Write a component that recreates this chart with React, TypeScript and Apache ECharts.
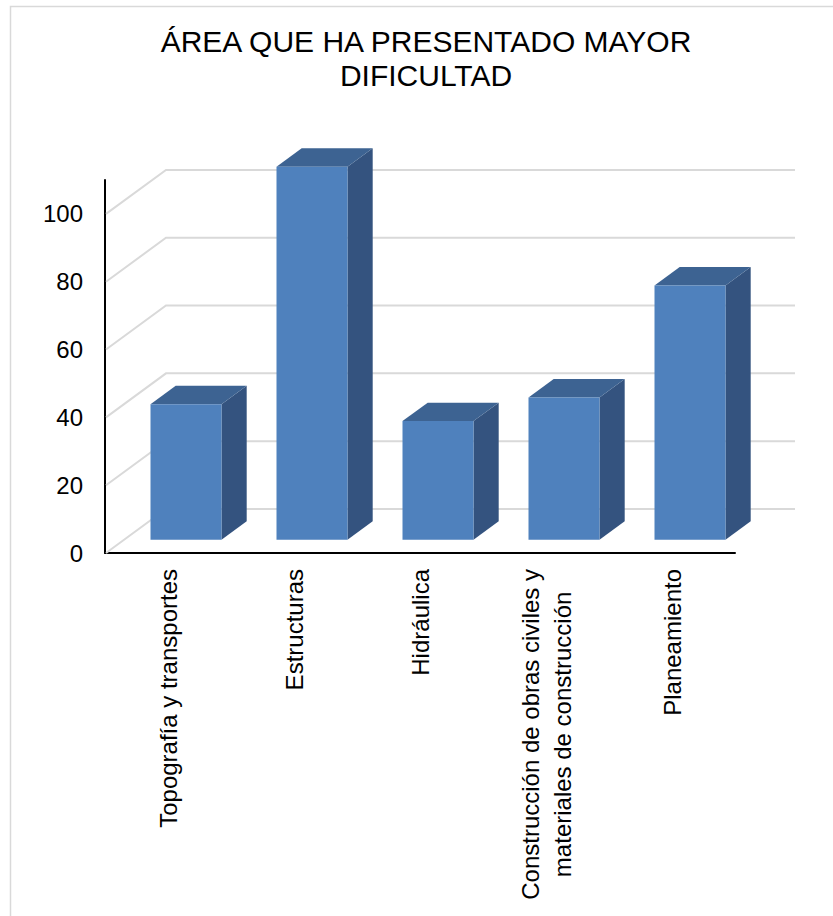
import { useEffect, useRef } from "react";
import * as echarts from "echarts";

const TITLE = "ÁREA QUE HA PRESENTADO MAYOR\nDIFICULTAD";
const categories = [
  "Topografía y transportes",
  "Estructuras",
  "Hidráulica",
  "Construcción de obras civiles y\nmateriales de construcción",
  "Planeamiento",
];
const values = [40, 110, 35, 42, 75];
const yTicks = [0, 20, 40, 60, 80, 100];

const FONT = "'Liberation Sans', Arial, Helvetica, sans-serif";
const WALL_DX = 60;
const WALL_DY = -44;
const BAR_OFF = 0.3;
const BAR_DEPTH = 0.42;
const BAR_W = 0.5635;
const FRONT = "#4F81BD";
const SIDE = "#34537F";
const TOP = "#3D6392";
const GRID = "#D9D9D9";

export default function App() {
  const ref = useRef<HTMLDivElement>(null);
  useEffect(() => {
    const chart = echarts.init(ref.current!, null, { renderer: "svg" });
    chart.setOption({
      animation: false,
      backgroundColor: "#ffffff",
      graphic: [
        {
          type: "rect",
          silent: true,
          z: -10,
          shape: { x: 10.5, y: 6.5, width: 840, height: 940 },
          style: { fill: "none", stroke: GRID, lineWidth: 1.5 },
        },
        {
          type: "text",
          x: 426,
          y: 24,
          style: {
            text: TITLE,
            align: "center",
            verticalAlign: "top",
            fontSize: 30,
            fontFamily: FONT,
            lineHeight: 34,
            fill: "#000",
          },
        },
      ],
      grid: { left: 105, right: 98, top: 180, bottom: 363, containLabel: false },
      xAxis: {
        type: "category",
        data: categories,
        axisLine: { show: true, lineStyle: { color: "#000", width: 2 } },
        axisTick: { show: false },
        splitLine: { show: false },
        axisLabel: {
          rotate: 90,
          interval: 0,
          margin: 16,
          fontSize: 24,
          fontFamily: FONT,
          color: "#000",
          lineHeight: 32,
          formatter: (v: string) =>
            v.includes("\n") ? v.split("\n").map((l) => `{c|${l}}`).join("\n") : v,
          rich: {
            c: { align: "center", fontSize: 24, fontFamily: FONT, color: "#000", lineHeight: 32 },
          },
        },
      },
      yAxis: {
        type: "value",
        min: 0,
        max: 110,
        interval: 20,
        axisLine: { show: true, lineStyle: { color: "#000", width: 2 } },
        axisTick: { show: false },
        splitLine: { show: false },
        axisLabel: {
          formatter: (v: number) => (v % 20 === 0 ? String(v) : ""),
          fontSize: 24,
          fontFamily: FONT,
          color: "#000",
          margin: 22,
        },
      },
      series: [
        {
          type: "custom",
          name: "grid",
          silent: true,
          z: 1,
          data: yTicks.map((v) => [0, v]),
          renderItem: (params: any, api: any) => {
            const cs = params.coordSys;
            const p = api.coord([0, api.value(1)]);
            const y = p[1];
            const x0 = cs.x + 1;
            const x1 = cs.x + cs.width;
            return {
              type: "polyline",
              shape: {
                points: [
                  [x0, y],
                  [x0 + WALL_DX, y + WALL_DY],
                  [x1 + WALL_DX, y + WALL_DY],
                ],
              },
              style: { stroke: GRID, lineWidth: 2, fill: "none" },
            };
          },
        },
        {
          type: "custom",
          name: "bars",
          z: 2,
          data: values.map((v, i) => [i, v]),
          renderItem: (params: any, api: any) => {
            const i = api.value(0);
            const v = api.value(1);
            const top = api.coord([i, v]);
            const base = api.coord([i, 0]);
            const band = api.size([1, 0])[0];
            const w = band * BAR_W;
            const ox = WALL_DX * BAR_OFF;
            const oy = WALL_DY * BAR_OFF;
            const ddx = WALL_DX * BAR_DEPTH;
            const ddy = WALL_DY * BAR_DEPTH;
            const xl = top[0] - w / 2 + ox;
            const xr = xl + w;
            const yt = top[1] + oy;
            const yb = base[1] + oy;
            return {
              type: "group",
              children: [
                {
                  type: "polygon",
                  shape: {
                    points: [
                      [xr, yt],
                      [xr + ddx, yt + ddy],
                      [xr + ddx, yb + ddy],
                      [xr, yb],
                    ],
                  },
                  style: { fill: SIDE },
                },
                {
                  type: "polygon",
                  shape: {
                    points: [
                      [xl, yt],
                      [xl + ddx, yt + ddy],
                      [xr + ddx, yt + ddy],
                      [xr, yt],
                    ],
                  },
                  style: { fill: TOP },
                },
                {
                  type: "rect",
                  shape: { x: xl, y: yt, width: w, height: yb - yt },
                  style: { fill: FRONT },
                },
              ],
            };
          },
        },
      ],
    });
    return () => chart.dispose();
  }, []);
  return (
    <div
      ref={ref}
      style={{ position: "fixed", left: 0, top: 0, width: 833, height: 916, background: "#fff" }}
    />
  );
}
